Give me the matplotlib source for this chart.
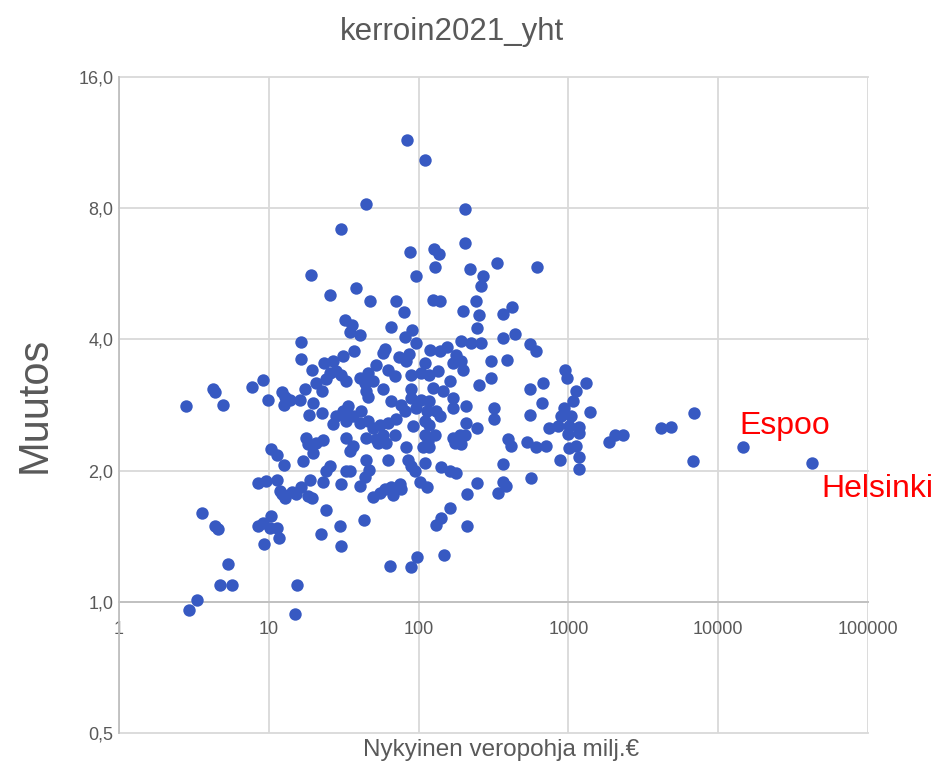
import matplotlib.pyplot as plt
from matplotlib.ticker import FixedLocator, FuncFormatter, NullLocator

# kunnat: nykyinen veropohja (milj. €) ja muutoskerroin
veropohja = [
    2.8, 2.94, 3.33, 3.56, 4.25, 4.37, 4.37, 4.59, 4.91, 4.71, 5.35, 5.64, 7.7, 9.08, 9.95,
    8.45, 9.65, 11.3, 11.8, 12.2, 12.8, 14.2, 15.3, 16.5, 18.8, 18.2, 19.3, 22.9, 24.2, 25.5,
    30.5, 33, 24.2, 29.7, 22.2, 30.5, 8.49, 9.16, 10.4, 10.2, 11.3, 11.7, 9.31, 15.5, 14.9,
    10.4, 11.3, 12.6, 16.9, 19.7, 18.2,
    30.5, 19.0, 25.8, 84.1, 110, 44.3, 203, 88.1, 126, 137, 129, 95.5, 203, 222, 268,
    262, 333, 38, 47.1, 71, 125, 138, 240,
    32.1, 34.7, 16.3, 16.5, 19.4, 23.3, 26.8, 31.3, 25.5, 28.3, 30.5, 24.2, 20.8, 22.7, 32.6,
    12.2, 12.8, 12.6, 13.8, 16.1, 17.4, 19.7, 18.6, 22.8, 26.8, 28.3, 31.3, 33, 33, 17.8,
    20.8, 23.0,
    79.4, 197, 252, 365, 422, 36.1, 40.4, 65.8, 90.8, 80.7, 95.5, 245, 365, 443, 36.9,
    59.3, 57.8, 73.9, 86.2, 82.8, 120, 138, 154, 193, 225, 262, 178, 193, 169, 197,
    305, 390, 110, 52.2, 62.4, 45.9, 40.4, 43.7, 49.6, 69.2, 89.4, 104, 118, 134, 125,
    161, 255, 305,
    44.8, 57.8, 45.9, 89.4, 89.4, 104, 118, 145, 169, 169, 208, 321, 321, 65.8, 76.7,
    80.7, 96.6, 113, 131, 138, 33.8, 36.5, 41.5, 40.4, 45.9, 49.6, 55, 62.4, 71, 57.8,
    69.2, 52.2, 44.8, 91.6, 110, 118, 128, 110, 115, 107, 118, 82.8, 169, 188, 203,
    193, 208, 245, 394, 415, 36.5, 34.7, 53.5, 60.9, 110, 174,
    34.7, 44.3, 46.6, 62.4, 84.8, 89.4, 94, 142, 161, 178, 365, 40.9, 43.7, 49.6, 55,
    59.3, 67.4, 65.8, 74.7, 76.7, 102, 113, 245, 211, 365, 385, 338, 163, 142, 130,
    211, 43.2, 98, 147, 64.1, 89.4,
    556, 609, 955, 980, 1320, 558, 681, 1125, 668, 1070, 940, 1400, 550, 894, 1040,
    747, 849, 1016, 1170, 989, 1184, 527, 609, 710, 1005, 1125, 1169, 880, 1169, 1856,
    2058, 2300, 4150, 4840, 6920, 6810, 564, 618,
]
muutos = [
    2.81, 0.96, 1.01, 1.60, 3.07, 3.03, 1.49, 1.47, 2.83, 1.09, 1.22, 1.09, 3.11, 3.22, 2.91,
    1.87, 1.89, 1.90, 1.80, 1.77, 1.73, 1.79, 1.77, 1.83, 1.90, 1.75, 1.73, 1.88, 2.0, 2.05,
    1.86, 2.0, 1.62, 1.49, 1.43, 1.34, 1.49, 1.52, 1.57, 1.48, 1.48, 1.40, 1.36, 1.09, 0.94,
    2.24, 2.17, 2.06, 2.10, 2.19, 2.30,
    7.17, 5.63, 5.05, 11.5, 10.3, 8.16, 7.95, 6.36, 6.45, 6.27, 5.86, 5.6, 6.65, 5.80, 5.58,
    5.29, 5.99, 5.24, 4.89, 4.89, 4.93, 4.89, 4.90,
    4.44, 4.17, 3.94, 3.61, 3.41, 3.53, 3.56, 3.66, 3.35, 3.38, 3.32, 3.24, 3.18, 3.04, 3.21,
    3.03, 2.95, 2.83, 2.91, 2.90, 3.07, 2.86, 2.68, 2.71, 2.56, 2.67, 2.74, 2.60, 2.38, 2.37,
    2.32, 2.35,
    4.62, 4.64, 4.56, 4.57, 4.74, 4.32, 4.10, 4.28, 4.21, 4.06, 3.92, 4.25, 4.04, 4.11, 3.77,
    3.81, 3.72, 3.64, 3.70, 3.56, 3.79, 3.76, 3.84, 3.97, 3.92, 3.92, 3.69, 3.56, 3.53, 3.41,
    3.56, 3.58, 3.53, 3.50, 3.41, 3.35, 3.26, 3.18, 3.21, 3.29, 3.32, 3.35, 3.32, 3.38, 3.10,
    3.21, 3.15, 3.27,
    3.04, 3.07, 2.95, 3.07, 2.94, 2.91, 2.89, 3.04, 2.94, 2.79, 2.81, 2.78, 2.62, 2.89, 2.83,
    2.74, 2.79, 2.74, 2.74, 2.67, 2.81, 2.67, 2.74, 2.57, 2.60, 2.51, 2.55, 2.57, 2.62, 2.42,
    2.41, 2.36, 2.38, 2.53, 2.60, 2.55, 2.42, 2.42, 2.34, 2.26, 2.26, 2.26, 2.38, 2.42, 2.42,
    2.30, 2.57, 2.51, 2.36, 2.28, 2.28, 2.22, 2.32, 2.32, 2.08, 2.32,
    2.0, 2.12, 2.01, 2.11, 2.11, 2.05, 2.0, 2.04, 2.0, 1.98, 2.07, 1.84, 1.93, 1.74, 1.78,
    1.81, 1.76, 1.83, 1.86, 1.81, 1.88, 1.83, 1.87, 1.77, 1.88, 1.84, 1.78, 1.64, 1.56, 1.50,
    1.49, 1.54, 1.27, 1.28, 1.21, 1.20,
    3.91, 3.76, 3.40, 3.26, 3.17, 3.08, 3.17, 3.04, 2.86, 2.89, 2.78, 2.73, 2.68, 2.67, 2.67,
    2.51, 2.53, 2.53, 2.52, 2.43, 2.44, 2.33, 2.26, 2.28, 2.25, 2.28, 2.15, 2.11, 2.02, 2.33,
    2.42, 2.41, 2.50, 2.52, 2.71, 2.10, 1.92, 5.86,
]

# nimetyt kaupungit
nimet = ['Espoo', 'Helsinki']
nimet_x = [14700, 42200]
nimet_y = [2.26, 2.08]
nimi_offset = [(-3, 10), (7, -8)]
nimi_va = ['baseline', 'top']

x_ticks = [1, 10, 100, 1000, 10000, 100000]
y_ticks = [0.5, 1, 2, 4, 8, 16]

PISTE = '#3759C2'
HARMAA = '#595959'
VIIVA = '#d9d9d9'

plt.rcParams['font.family'] = ['Liberation Sans', 'DejaVu Sans']

fig = plt.figure(figsize=(9.37, 7.65), dpi=100)
ax = fig.add_axes([119 / 937, 1 - 733 / 765, 749 / 937, 656 / 765])

ax.scatter(veropohja + nimet_x, muutos + nimet_y, s=80, color=PISTE,
           linewidths=0, zorder=3)

for nimi, x, y, off, va in zip(nimet, nimet_x, nimet_y, nimi_offset, nimi_va):
    ax.annotate(nimi, (x, y), xytext=off, textcoords='offset points',
                color='red', fontsize=23, ha='left', va=va,
                annotation_clip=False)

ax.set_xscale('log')
ax.set_yscale('log', base=2)
ax.set_xlim(1, 100000)
ax.set_ylim(0.5, 16)

ax.xaxis.set_major_locator(FixedLocator(x_ticks))
ax.xaxis.set_minor_locator(NullLocator())
ax.xaxis.set_major_formatter(FuncFormatter(lambda v, p: f'{v:.0f}'))
ax.yaxis.set_major_locator(FixedLocator(y_ticks))
ax.yaxis.set_minor_locator(NullLocator())
ax.yaxis.set_major_formatter(FuncFormatter(lambda v, p: f'{v:.1f}'.replace('.', ',')))

ax.grid(True, color=VIIVA, linewidth=1.3)
ax.set_axisbelow(True)
for line in ax.get_xgridlines() + ax.get_ygridlines():
    line.set_clip_on(False)

ax.spines['top'].set_visible(False)
ax.spines['right'].set_visible(False)
ax.spines['left'].set_color('#bfbfbf')
ax.spines['bottom'].set_color('#bfbfbf')
ax.spines['bottom'].set_position(('data', 1.0))
ax.spines['left'].set_linewidth(1.3)
ax.spines['bottom'].set_linewidth(1.3)

ax.tick_params(length=0, labelcolor=HARMAA, labelsize=13)
ax.tick_params(axis='x', pad=14)
ax.tick_params(axis='y', pad=4)

fig.text(452 / 937, 1 - 32 / 765, 'kerroin2021_yht', ha='center', va='center',
         fontsize=22.5, color=HARMAA)
fig.text(501 / 937, 1 - 750 / 765, 'Nykyinen veropohja milj.€', ha='center',
         va='center', fontsize=17.5, color=HARMAA)
fig.text(35 / 937, 1 - 405 / 765, 'Muutos', ha='center', va='center',
         rotation=90, fontsize=30, color=HARMAA)

fig.savefig('out.png', dpi=100)
